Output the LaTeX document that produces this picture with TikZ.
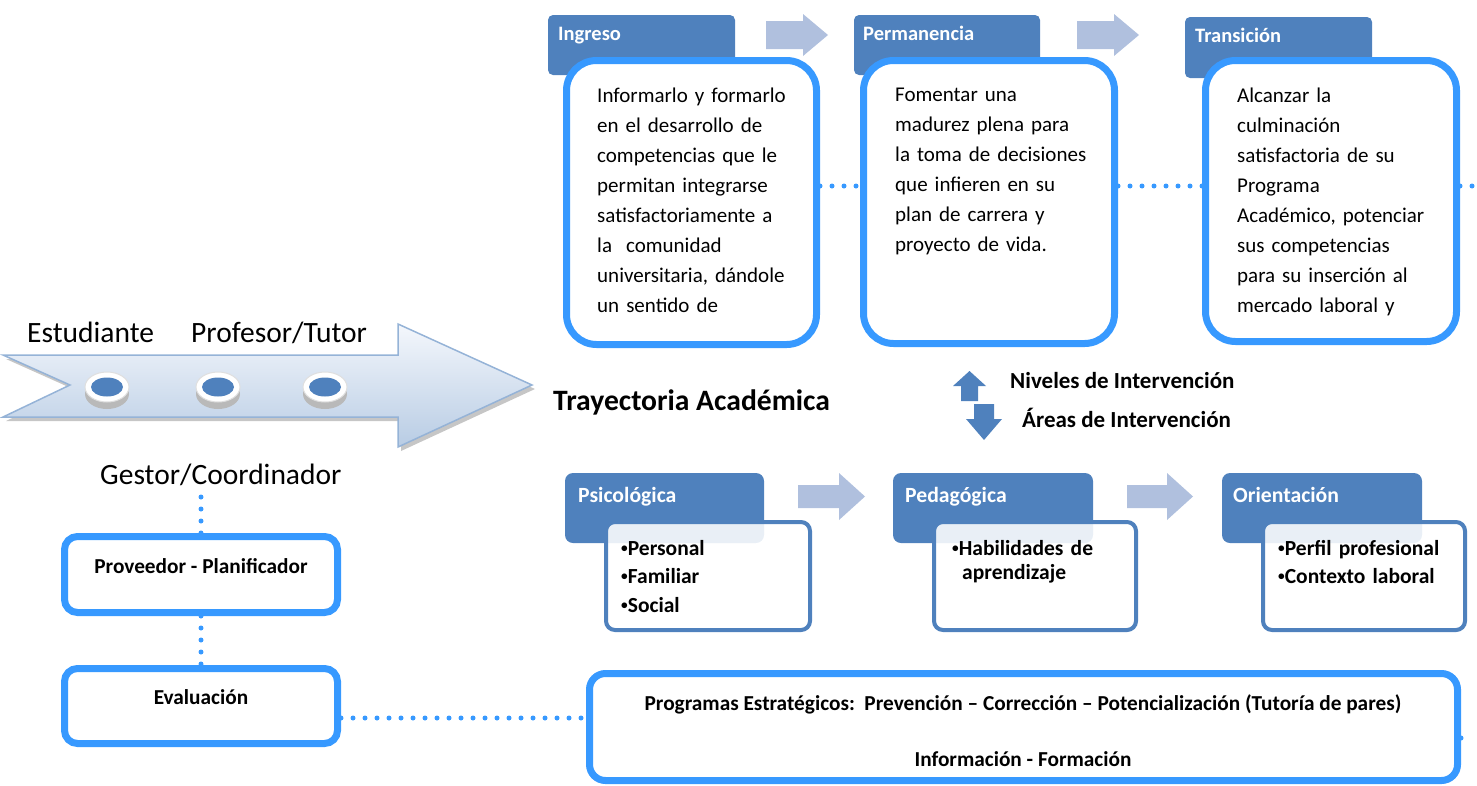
\documentclass[tikz,border=0pt]{standalone}
\usepackage{fontspec}
\setmainfont{Carlito}
\usetikzlibrary{calc,shapes.geometric}
\definecolor{tabblue}{RGB}{79,129,189}
\definecolor{brightblue}{RGB}{55,153,255}
\definecolor{paleblue}{RGB}{176,192,222}
\definecolor{arrowedge}{RGB}{149,179,215}
\definecolor{arrowtop}{RGB}{244,247,252}
\definecolor{arrowbot}{RGB}{184,204,228}
\newcommand\smbul{\raisebox{0.28ex}{\scalebox{0.62}{•}}}
\begin{document}
\begin{tikzpicture}[x=1pt,y=-1pt,
  tabbox/.style={fill=tabblue, draw=none, rounded corners=5pt, inner sep=0pt},
  topbox/.style={draw=brightblue, line width=7pt, fill=white, rounded corners=30pt, inner sep=0pt},
  subbox/.style={draw=tabblue, line width=4pt, fill=white, fill opacity=0.88, draw opacity=1, rounded corners=9pt, inner sep=0pt},
  sidebox/.style={draw=brightblue, line width=7pt, fill=white, rounded corners=13pt, inner sep=0pt},
  tabtext/.style={text=white, font=\bfseries\fontsize{20.5}{22}\selectfont, inner sep=0pt, anchor=base west},
  subtabtext/.style={text=white, font=\bfseries\fontsize{21.7}{24}\selectfont, inner sep=0pt, anchor=base west},
  bodytext/.style={font=\fontsize{21}{30}\selectfont, inner sep=0pt, anchor=base west, text width=240pt, align=left},
  bullettext/.style={font=\bfseries\fontsize{21.5}{28.5}\selectfont, inner sep=0pt, anchor=base west, text width=220pt, align=left},
  boldlabel/.style={font=\bfseries\fontsize{21.3}{24}\selectfont, inner sep=0pt, anchor=base},
  rolelabel/.style={font=\fontsize{29.5}{32}\selectfont, inner sep=0pt, anchor=base west},
  dotline/.style={brightblue, line width=5pt, line cap=round, dash pattern=on 0pt off 12pt},
  flowfill/.style={fill=paleblue},
  coinouter/.style={ellipse, fill=white, draw=gray!25, line width=1pt, minimum width=44pt, minimum height=30pt, inner sep=0pt},
  coinshade/.style={ellipse, fill=gray!55, minimum width=44pt, minimum height=30pt, inner sep=0pt},
  coininner/.style={ellipse, fill=tabblue, minimum width=32pt, minimum height=19pt, inner sep=0pt}
]
\useasboundingbox (0,0) rectangle (1477,785);

% ---------- big arrow ----------
\fill[gray!45] (6,359) -- (401,359) -- (401,328) -- (535,389) -- (401,451) -- (401,421) -- (6,421) -- (73,389) -- cycle;
\filldraw[draw=arrowedge, line width=1.5pt, top color=arrowtop, bottom color=arrowbot]
  (3,355) -- (398,355) -- (398,324) -- (532,385) -- (398,447) -- (398,417) -- (3,417) -- (70,385) -- cycle;

\foreach \i/\cx in {1/107,2/218,3/325}{
  \node[coinshade] (cs\i) at (\cx,394) {};
  \node[coinouter] (co\i) at (\cx,387) {};
  \node[coininner] (ci\i) at (\cx,387) {};
}

\node[rolelabel] (estud) at (27,342) {Estudiante};
\node[rolelabel] (prof) at (191,342) {Profesor/Tutor};
\node[rolelabel] (gestor) at (100,484) {Gestor/Coordinador};
\node[font=\bfseries\fontsize{29.6}{32}\selectfont, inner sep=0pt, anchor=base west] (tray) at (553,410) {Trayectoria Académica};

% ---------- top row ----------
\node[tabbox, minimum width=187pt, minimum height=60pt] (t1) at (641.5,45) {};
\node[tabbox, minimum width=186pt, minimum height=60pt] (t2) at (947,45) {};
\node[tabbox, minimum width=187pt, minimum height=61pt] (t3) at (1278.5,47.5) {};
\node[tabtext] (t1l) at (558,40) {Ingreso};
\node[tabtext] (t2l) at (863,40) {Permanencia};
\node[tabtext] (t3l) at (1195,42) {Transición};

\fill[flowfill] (766,35) ++(0,-14) -- ++(37,0) -- ++(0,-7) -- ++(25,21) -- ++(-25,21) -- ++(0,-7) -- ++(-37,0) -- cycle;
\fill[flowfill] (1077,35) ++(0,-14) -- ++(37,0) -- ++(0,-7) -- ++(25,21) -- ++(-25,21) -- ++(0,-7) -- ++(-37,0) -- cycle;

\node[topbox, minimum width=250pt, minimum height=284pt] (b1) at (691.5,202.5) {};
\node[topbox, minimum width=251pt, minimum height=283pt] (b2) at (989,202) {};
\node[topbox, minimum width=251pt, minimum height=281pt] (b3) at (1331,201) {};

\node[bodytext] (b1t) at (597,102) {Informarlo y formarlo\\en el desarrollo de\\competencias que le\\permitan integrarse\\satisfactoriamente a\\la\ \ comunidad\\universitaria, dándole\\un sentido de};
\node[bodytext] (b2t) at (895,101) {Fomentar una\\madurez plena para\\la toma de decisiones\\que infieren en su\\plan de carrera y\\proyecto de vida.};
\node[bodytext] (b3t) at (1237,102) {Alcanzar la\\culminación\\satisfactoria de su\\Programa\\Académico, potenciar\\sus competencias\\para su inserción al\\mercado laboral y};

\coordinate (rowA) at (0,186);
\coordinate (endA) at (1472,186);
\draw[dotline] (b1.east |- rowA) -- (b2.west |- rowA);
\draw[dotline] (b2.east |- rowA) -- (b3.west |- rowA);
\draw[dotline] (b3.east |- rowA) -- (endA);

% ---------- levels / areas ----------
\fill[tabblue] (961,401) -- (961,386) -- (953,386) -- (969.5,371) -- (986,386) -- (978,386) -- (978,401) -- cycle;
\fill[tabblue] (974,404) -- (994,404) -- (994,419) -- (1002,419) -- (984,440) -- (966,419) -- (974,419) -- cycle;
\node[font=\bfseries\fontsize{23}{24}\selectfont, inner sep=0pt, anchor=base west] (niv) at (1010,388) {Niveles de Intervención};
\node[font=\bfseries\fontsize{23}{24}\selectfont, inner sep=0pt, anchor=base west] (are) at (1022,427) {Áreas de Intervención};

% ---------- bottom row ----------
\node[tabbox, rounded corners=8pt, minimum width=199pt, minimum height=70pt] (p1) at (664.5,508) {};
\node[tabbox, rounded corners=8pt, minimum width=200pt, minimum height=70pt] (p2) at (993,508) {};
\node[tabbox, rounded corners=8pt, minimum width=200pt, minimum height=70pt] (p3) at (1322,508) {};
\node[subtabtext] (p1l) at (578,502) {Psicológica};
\node[subtabtext] (p2l) at (905,502) {Pedagógica};
\node[subtabtext] (p3l) at (1233,502) {Orientación};

\fill[flowfill] (798,496.5) ++(0,-11.5) -- ++(41,0) -- ++(0,-12) -- ++(26,23.5) -- ++(-26,23.5) -- ++(0,-12) -- ++(-41,0) -- cycle;
\fill[flowfill] (1127,496.5) ++(0,-11.5) -- ++(40,0) -- ++(0,-12) -- ++(26,23.5) -- ++(-26,23.5) -- ++(0,-12) -- ++(-40,0) -- cycle;

\node[subbox, minimum width=204pt, minimum height=108pt] (s1) at (708,576) {};
\node[subbox, minimum width=202pt, minimum height=108pt] (s2) at (1035,576) {};
\node[subbox, minimum width=202pt, minimum height=108pt] (s3) at (1364,576) {};

\node[bullettext] (s1t) at (621,555) {\smbul Personal\\\smbul Familiar\\\smbul Social};
\node[bullettext, text width=180pt] (s2t) at (952,555) {\smbul Habilidades de\\[-4.5pt]\hspace*{10pt}aprendizaje};
\node[bullettext] (s3t) at (1278,555) {\smbul Perfil profesional\\\smbul Contexto laboral};

% ---------- left column ----------
\node[sidebox, minimum width=273pt, minimum height=76pt] (prov) at (201,574.5) {};
\node[sidebox, minimum width=273pt, minimum height=75pt] (eval) at (201,706) {};
\node[boldlabel] (provl) at (201,573) {Proveedor - Planificador};
\node[boldlabel] (evall) at (201,704) {Evaluación};

\node[sidebox, rounded corners=16pt, minimum width=868pt, minimum height=107pt] (prog) at (1023.5,727) {};
\node[boldlabel] (progl1) at (1023,710) {Programas Estratégicos:\ \ Prevención – Corrección – Potencialización (Tutoría de pares)};
\node[boldlabel] (progl2) at (1023,766) {Información - Formación};

\coordinate (rowB) at (0,718);
\coordinate (rowC) at (0,738);
\coordinate (endC) at (1472,738);
\draw[dotline] (prov.north) -- (prov.north |- gestor.south);
\draw[dotline] (prov.south) -- (eval.north);
\draw[dotline] (eval.east |- rowB) -- (prog.west |- rowB);
\draw[dotline] (prog.east |- rowC) -- (endC);
\end{tikzpicture}
\end{document}
